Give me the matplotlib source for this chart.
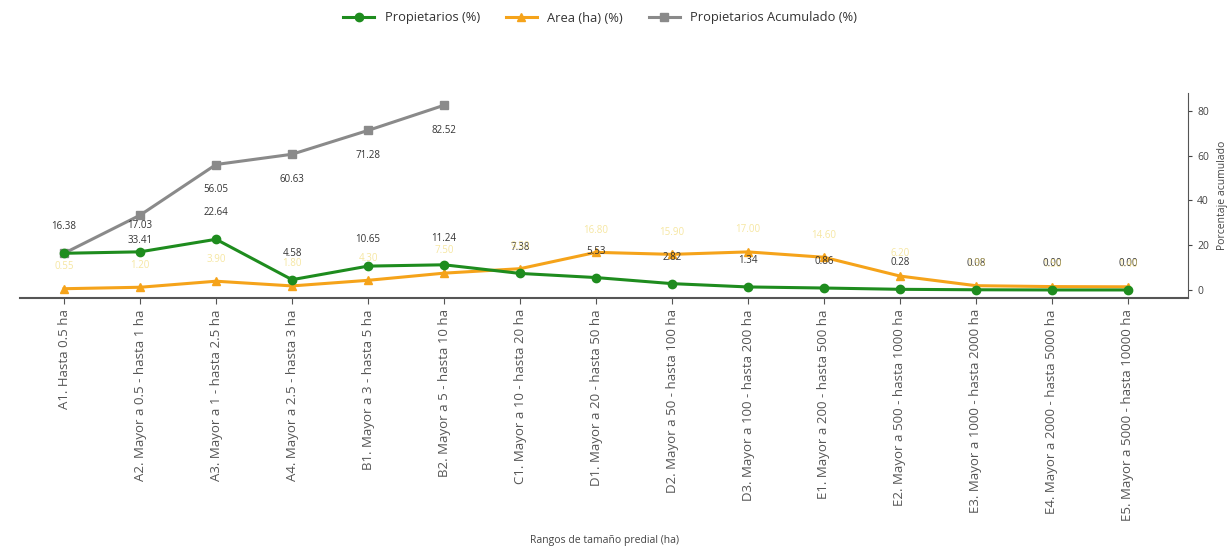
import matplotlib
matplotlib.use("Agg")
import matplotlib.pyplot as plt

categories = [
    "A1. Hasta 0.5 ha",
    "A2. Mayor a 0.5 - hasta 1 ha",
    "A3. Mayor a 1 - hasta 2.5 ha",
    "A4. Mayor a 2.5 - hasta 3 ha",
    "B1. Mayor a 3 - hasta 5 ha",
    "B2. Mayor a 5 - hasta 10 ha",
    "C1. Mayor a 10 - hasta 20 ha",
    "D1. Mayor a 20 - hasta 50 ha",
    "D2. Mayor a 50 - hasta 100 ha",
    "D3. Mayor a 100 - hasta 200 ha",
    "E1. Mayor a 200 - hasta 500 ha",
    "E2. Mayor a 500 - hasta 1000 ha",
    "E3. Mayor a 1000 - hasta 2000 ha",
    "E4. Mayor a 2000 - hasta 5000 ha",
    "E5. Mayor a 5000 - hasta 10000 ha",
]
propietarios = [16.38, 17.03, 22.64, 4.58, 10.65, 11.24, 7.38, 5.53, 2.82, 1.34, 0.86, 0.28, 0.08, 0.00, 0.00]
area = [0.55, 1.20, 3.90, 1.80, 4.30, 7.50, 9.50, 16.80, 15.90, 17.00, 14.60, 6.20, 1.90, 1.50, 1.40]
acumulado = [16.38, 33.41, 56.05, 60.63, 71.28, 82.52]

plt.rcParams['font.family'] = ['Open Sans', 'DejaVu Sans']

fig = plt.figure(figsize=(12.31, 5.52), dpi=100)
ax = fig.add_axes([20/1231, 1-298/552, (1188-20)/1231, (298-93)/552])

x = list(range(len(categories)))
c_green = "#1e8c1e"
c_orange = "#f5a31a"
c_gray = "#8a8a8a"

l3, = ax.plot(range(len(acumulado)), acumulado, color=c_gray, lw=2.2, marker='s', ms=6,
              label="Propietarios Acumulado (%)", zorder=3)
l2, = ax.plot(x, area, color=c_orange, lw=2.2, marker='^', ms=6,
              label="Area (ha) (%)", zorder=4)
l1, = ax.plot(x, propietarios, color=c_green, lw=2.2, marker='o', ms=6,
              label="Propietarios (%)", zorder=5)

for xi, v in zip(x, propietarios):
    ax.annotate(f"{v:.2f}", (xi, v), xytext=(0, 15), textcoords='offset points',
                ha='center', va='bottom', fontsize=7, color="#333333", zorder=6)
for xi, v in zip(x, area):
    ax.annotate(f"{v:.2f}", (xi, v), xytext=(0, 12), textcoords='offset points',
                ha='center', va='bottom', fontsize=7, color="#f2dc7a", alpha=0.7, zorder=6)
for xi, v in zip(range(len(acumulado)), acumulado[1:]):
    ax.annotate(f"{v:.2f}", (xi + 1, v), xytext=(0, -14), textcoords='offset points',
                ha='center', va='top', fontsize=7, color="#333333", zorder=6)

ax.set_xlim(-0.58, 14.79)
ax.set_ylim(-3.6, 88)
ax.set_xticks(x)
ax.set_xticklabels(categories, rotation=90, fontsize=9.5, color="#555555")
ax.tick_params(axis='x', length=4, color="#555555", pad=4)
ax.yaxis.tick_right()
ax.yaxis.set_label_position('right')
ax.set_yticks([0, 20, 40, 60, 80])
ax.tick_params(axis='y', labelsize=7.5, length=3, colors="#444444")
ax.set_ylabel("Porcentaje acumulado", fontsize=7.5, color="#444444", labelpad=6)
ax.set_xlabel("Rangos de tamaño predial (ha)", fontsize=7.5, color="#444444", labelpad=10)

for s in ['top', 'left']:
    ax.spines[s].set_visible(False)
ax.spines['bottom'].set_color("#555555")
ax.spines['bottom'].set_linewidth(1.5)
ax.spines['right'].set_color("#555555")
ax.spines['right'].set_bounds(-3.6, 88)

fig.legend(handles=[l1, l2, l3], loc='center', bbox_to_anchor=(600/1231, 1-18/552),
           ncol=3, frameon=False, fontsize=9.3, handlelength=2.4, columnspacing=2.0,
           labelcolor="#333333")

fig.savefig("out.png", dpi=100, facecolor='white')
